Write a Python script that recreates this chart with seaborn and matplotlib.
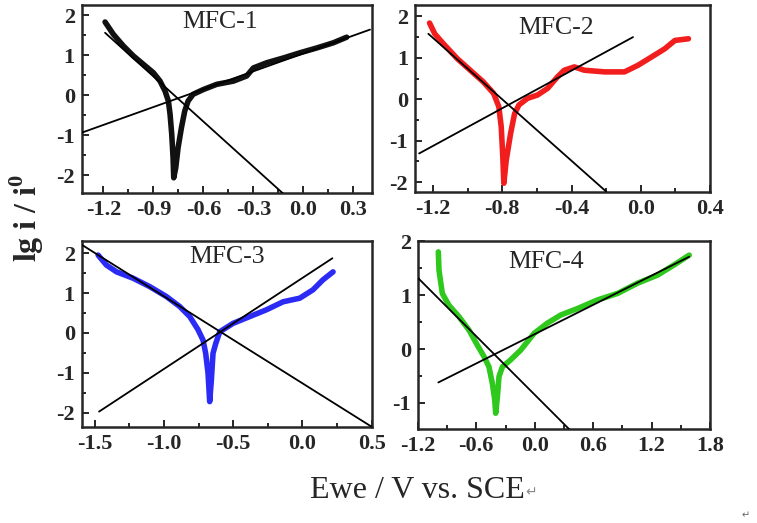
import matplotlib
matplotlib.use("Agg")
import matplotlib.pyplot as plt
import pandas as pd
import seaborn as sns
from matplotlib.ticker import MultipleLocator, FormatStrFormatter

# Tafel curves (E in V vs SCE, lg i/i0)
e1 = [-1.19, -1.14, -1.08, -1.02, -0.96, -0.90, -0.86, -0.83, -0.81, -0.80, -0.79, -0.782, -0.778,
      -0.766, -0.752, -0.732, -0.712, -0.692, -0.662, -0.60, -0.52, -0.42, -0.34, -0.30, -0.22,
      -0.12, -0.02, 0.08, 0.18, 0.26]
lg1 = [1.83, 1.52, 1.23, 0.98, 0.77, 0.56, 0.35, 0.10, -0.15, -0.48, -0.98, -1.57, -2.07,
       -1.82, -1.32, -0.82, -0.40, -0.15, 0.02, 0.14, 0.27, 0.35, 0.48, 0.68, 0.81,
       0.93, 1.06, 1.18, 1.31, 1.45]

e2 = [-1.22, -1.19, -1.14, -1.06, -0.985, -0.91, -0.85, -0.82, -0.806, -0.797, -0.791, -0.777,
      -0.752, -0.729, -0.704, -0.655, -0.597, -0.539, -0.481, -0.442, -0.384, -0.326, -0.209,
      -0.094, -0.016, 0.062, 0.139, 0.197, 0.275]
lg2 = [1.84, 1.58, 1.34, 0.98, 0.70, 0.42, 0.14, -0.18, -0.67, -1.39, -2.03, -1.47,
       -0.83, -0.35, -0.14, 0.02, 0.10, 0.26, 0.54, 0.70, 0.78, 0.70, 0.66,
       0.66, 0.82, 1.02, 1.22, 1.42, 1.46]

e3 = [-1.476, -1.416, -1.343, -1.223, -1.103, -0.982, -0.886, -0.814, -0.754, -0.718, -0.699,
      -0.682, -0.670, -0.658, -0.646, -0.626, -0.597, -0.501, -0.381, -0.260, -0.140, -0.020,
      0.076, 0.148, 0.221]
lg3 = [1.95, 1.70, 1.53, 1.37, 1.16, 0.91, 0.66, 0.41, 0.08, -0.18, -0.51,
       -1.01, -1.72, -1.18, -0.51, -0.26, 0.03, 0.24, 0.41, 0.58, 0.78, 0.87,
       1.08, 1.33, 1.53]

e4 = [-0.99, -0.983, -0.949, -0.881, -0.778, -0.675, -0.589, -0.521, -0.470, -0.435, -0.411,
      -0.401, -0.383, -0.367, -0.332, -0.247, -0.144, -0.007, 0.130, 0.267, 0.439, 0.644,
      0.850, 1.055, 1.261, 1.432, 1.586]
lg4 = [1.80, 1.46, 1.03, 0.81, 0.60, 0.35, 0.07, -0.14, -0.33, -0.64, -0.94,
       -1.19, -0.88, -0.51, -0.33, -0.20, -0.02, 0.29, 0.48, 0.63, 0.75, 0.91,
       1.03, 1.22, 1.37, 1.56, 1.74]

# Tafel fit lines (end points): cathodic and anodic
cat_e = [[-1.19, -0.12], [-1.227, -0.20], [-1.59, 0.50], [-1.195, 0.35]]
cat_lg = [[1.56, -2.47], [1.58, -2.23], [2.20, -2.35], [1.31, -1.48]]
an_e = [[-1.33, 0.40], [-1.28, -0.045], [-1.469, 0.216], [-0.99, 1.586]]
an_lg = [[-0.94, 1.64], [-1.31, 1.50], [-1.97, 1.87], [-0.62, 1.71]]

names = ["MFC-1", "MFC-2", "MFC-3", "MFC-4"]
colors = ["#111111", "#f21d1d", "#2b2bf5", "#2fc81c"]
x_lims = [(-1.33, 0.41), (-1.305, 0.40), (-1.594, 0.50), (-1.20, 1.80)]
y_lims = [(-2.45, 2.25), (-2.24, 2.27), (-2.35, 2.30), (-1.48, 2.0)]
x_major = [0.3, 0.4, 0.5, 0.6]

sns.set_style("ticks")
plt.rcParams["font.family"] = ["Liberation Serif", "DejaVu Sans"]
plt.rcParams["axes.unicode_minus"] = False
plt.rcParams["mathtext.fontset"] = "custom"
plt.rcParams["mathtext.rm"] = "Liberation Serif:bold"
plt.rcParams["mathtext.bf"] = "Liberation Serif:bold"

fig = plt.figure(figsize=(7.57, 5.23), dpi=100)
rects = [[0.108, 0.631, 0.383, 0.359], [0.548, 0.633, 0.390, 0.357],
         [0.108, 0.184, 0.383, 0.355], [0.552, 0.180, 0.386, 0.359]]
title_pos = [(0.476, 0.91), (0.48, 0.877), (0.503, 0.914), (0.438, 0.89)]
curves = [(e1, lg1), (e2, lg2), (e3, lg3), (e4, lg4)]

for i in range(4):
    ax = fig.add_axes(rects[i])
    df = pd.DataFrame({"E": curves[i][0], "lg": curves[i][1]})
    sns.lineplot(data=df, x="E", y="lg", sort=False, estimator=None, color=colors[i],
                 lw=4.0, ax=ax, zorder=2)
    for xs, ys in [(cat_e[i], cat_lg[i]), (an_e[i], an_lg[i])]:
        fit = pd.DataFrame({"E": xs, "lg": ys})
        sns.lineplot(data=fit, x="E", y="lg", sort=False, estimator=None, color="black",
                     lw=1.3, ax=ax, zorder=3)
    ax.set_xlim(*x_lims[i])
    ax.set_ylim(*y_lims[i])
    ax.xaxis.set_major_locator(MultipleLocator(x_major[i]))
    ax.xaxis.set_minor_locator(MultipleLocator(x_major[i] / 2))
    ax.yaxis.set_major_locator(MultipleLocator(1))
    ax.yaxis.set_minor_locator(MultipleLocator(0.5))
    ax.xaxis.set_major_formatter(FormatStrFormatter("%.1f"))
    ax.tick_params(which="both", direction="in", width=1.4, labelsize=16, pad=5)
    ax.tick_params(which="major", length=5)
    ax.tick_params(which="minor", length=3)
    for lab in ax.get_xticklabels() + ax.get_yticklabels():
        lab.set_fontweight("bold")
    for sp in ax.spines.values():
        sp.set_linewidth(1.8)
    ax.set_xlabel("")
    ax.set_ylabel("")
    ax.text(title_pos[i][0], title_pos[i][1], names[i], transform=ax.transAxes,
            ha="center", va="center", fontsize=18.5)

fig.text(0.551, 0.063, "Ewe / V vs. SCE", ha="center", va="center", fontsize=23)
fig.text(0.702, 0.058, "\u21b5", ha="center", va="center", fontsize=10, color="#888888",
         family=["DejaVu Sans"])
fig.text(0.985, 0.015, "\u21b5", ha="center", va="center", fontsize=7, color="#666666",
         family=["DejaVu Sans"])
fig.text(0.035, 0.583, r"lg i / i$^{0}$", rotation=90, ha="center", va="center",
         fontsize=23, fontweight="bold")

fig.savefig("out.png", dpi=100)
